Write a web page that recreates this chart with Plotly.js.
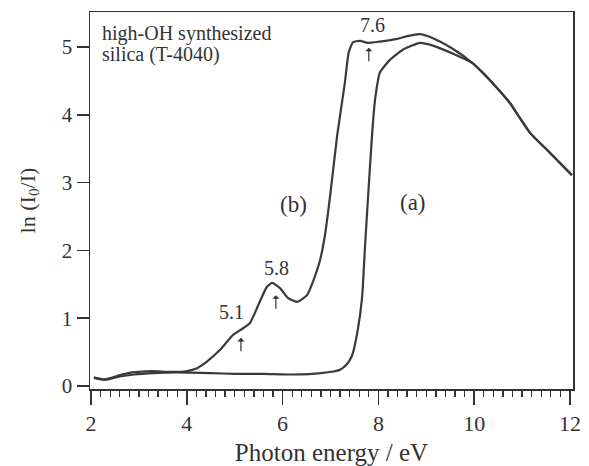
<!DOCTYPE html>
<html>
<head>
<meta charset="utf-8">
<script src="https://cdn.plot.ly/plotly-3.0.1.min.js"></script>
<style>html,body{margin:0;padding:0;background:#fff;}#chart{width:589px;height:466px;}</style>
</head>
<body>
<div id="chart"></div>
<script>
// Curve (a): shared tail with (b) above ~10 eV
var xA = [2.06, 2.29, 2.6, 2.9, 3.3, 3.8, 4.5, 5.0, 5.6, 6.2, 6.8, 7.2, 7.34, 7.45, 7.57, 7.66, 7.72, 7.78, 7.87, 7.93, 8.03, 8.24, 8.51, 8.87, 9.14, 9.56, 9.97, 10.15, 10.33, 10.75, 10.91, 11.17, 11.58, 12.04];
var yA = [0.12, 0.09, 0.14, 0.17, 0.19, 0.20, 0.19, 0.18, 0.18, 0.17, 0.19, 0.24, 0.32, 0.45, 0.83, 1.31, 2.05, 2.74, 3.73, 4.22, 4.62, 4.81, 4.96, 5.06, 5.02, 4.90, 4.76, 4.64, 4.51, 4.17, 4.00, 3.73, 3.44, 3.11];

// Curve (b)
var xB = [2.06, 2.29, 2.6, 2.86, 3.27, 3.6, 3.9, 4.17, 4.4, 4.69, 4.96, 5.15, 5.32, 5.49, 5.67, 5.78, 5.95, 6.11, 6.3, 6.51, 6.65, 6.78, 6.89, 7.0, 7.14, 7.3, 7.38, 7.47, 7.62, 7.78, 8.03, 8.39, 8.6, 8.87, 9.14, 9.56, 9.97, 10.15, 10.33, 10.75, 10.91, 11.17, 11.58, 12.04];
var yB = [0.13, 0.10, 0.16, 0.20, 0.22, 0.21, 0.21, 0.25, 0.35, 0.53, 0.75, 0.84, 0.93, 1.19, 1.46, 1.52, 1.44, 1.30, 1.24, 1.34, 1.57, 1.85, 2.25, 2.85, 3.70, 4.47, 4.92, 5.07, 5.09, 5.06, 5.08, 5.12, 5.16, 5.19, 5.13, 4.97, 4.76, 4.64, 4.51, 4.17, 4.00, 3.73, 3.44, 3.11];

// Peak labels and arrow head positions
var peakLabels = ["5.1", "5.8", "7.6"];
var peakLabelX = [4.94, 5.88, 7.87];
var peakLabelY = [1.09, 1.74, 5.32];
var arrowX = [5.13, 5.86, 7.80];
var arrowY = [0.71, 1.34, 4.99];

var curveLabels = ["(a)", "(b)"];
var curveLabelX = [8.72, 6.22];
var curveLabelY = [2.70, 2.67];

var noteLines = ["high-OH synthesized", "silica (T-4040)"];
var noteX = 2.19;
var noteY = [5.40, 5.09];

var xTicks = [2, 4, 6, 8, 10, 12];
var yTicks = [0, 1, 2, 3, 4, 5];

var FONT = "Liberation Serif, Times New Roman, serif";
var INK = "#333333";

var lineStyle = {color: "#3a3a3a", width: 2.2, shape: "spline", smoothing: 0.5};

var traces = [
  {x: xA, y: yA, mode: "lines", line: lineStyle, name: "(a)", hoverinfo: "skip"},
  {x: xB, y: yB, mode: "lines", line: lineStyle, name: "(b)", hoverinfo: "skip"}
];

var annotations = [];
for (var k = 0; k < noteLines.length; k++) {
  annotations.push({
    x: noteX, y: noteY[k], xref: "x", yref: "y", xanchor: "left", yanchor: "top",
    text: noteLines[k], showarrow: false, align: "left",
    font: {family: FONT, size: 20, color: INK}
  });
}
for (var i = 0; i < peakLabels.length; i++) {
  annotations.push({x: peakLabelX[i], y: peakLabelY[i], xref: "x", yref: "y", text: peakLabels[i],
    showarrow: false, font: {family: FONT, size: 20, color: INK}});
  annotations.push({x: arrowX[i], y: arrowY[i], xref: "x", yref: "y", text: "",
    showarrow: true, ax: 0, ay: 15, arrowhead: 1, arrowsize: 1, arrowwidth: 1.2,
    arrowcolor: INK, standoff: 0, startstandoff: 0});
}
for (var j = 0; j < curveLabels.length; j++) {
  annotations.push({x: curveLabelX[j], y: curveLabelY[j], xref: "x", yref: "y", text: curveLabels[j],
    showarrow: false, font: {family: FONT, size: 23, color: INK}});
}

var layout = {
  width: 589, height: 466,
  margin: {l: 90, r: 16, t: 12, b: 77},
  paper_bgcolor: "#ffffff", plot_bgcolor: "#ffffff",
  showlegend: false,
  font: {family: FONT, color: INK},
  xaxis: {
    range: [1.979, 12.063], tickvals: xTicks, ticktext: xTicks.map(String),
    ticks: "outside", ticklen: 14, tickwidth: 1.5, tickcolor: INK,
    minor: {dtick: 0.2, tick0: 2, ticks: "outside", ticklen: 6, tickwidth: 1.3, tickcolor: INK, showgrid: false},
    showline: true, mirror: true, linecolor: INK, linewidth: 1.5,
    showgrid: false, zeroline: false,
    tickfont: {family: FONT, size: 22, color: INK},
    title: {text: "Photon energy / eV", font: {family: FONT, size: 25, color: INK}, standoff: 9}
  },
  yaxis: {
    range: [-0.044, 5.516], tickvals: yTicks, ticktext: yTicks.map(String),
    ticks: "outside", ticklen: 12, tickwidth: 1.5, tickcolor: INK,
    showline: true, mirror: true, linecolor: INK, linewidth: 1.5,
    showgrid: false, zeroline: false,
    tickfont: {family: FONT, size: 21, color: INK},
    title: {text: "ln (I<sub>0</sub>/I)", font: {family: FONT, size: 22, color: INK}, standoff: 20}
  },
  annotations: annotations
};

Plotly.newPlot("chart", traces, layout, {staticPlot: true, displayModeBar: false});
</script>
</body>
</html>
